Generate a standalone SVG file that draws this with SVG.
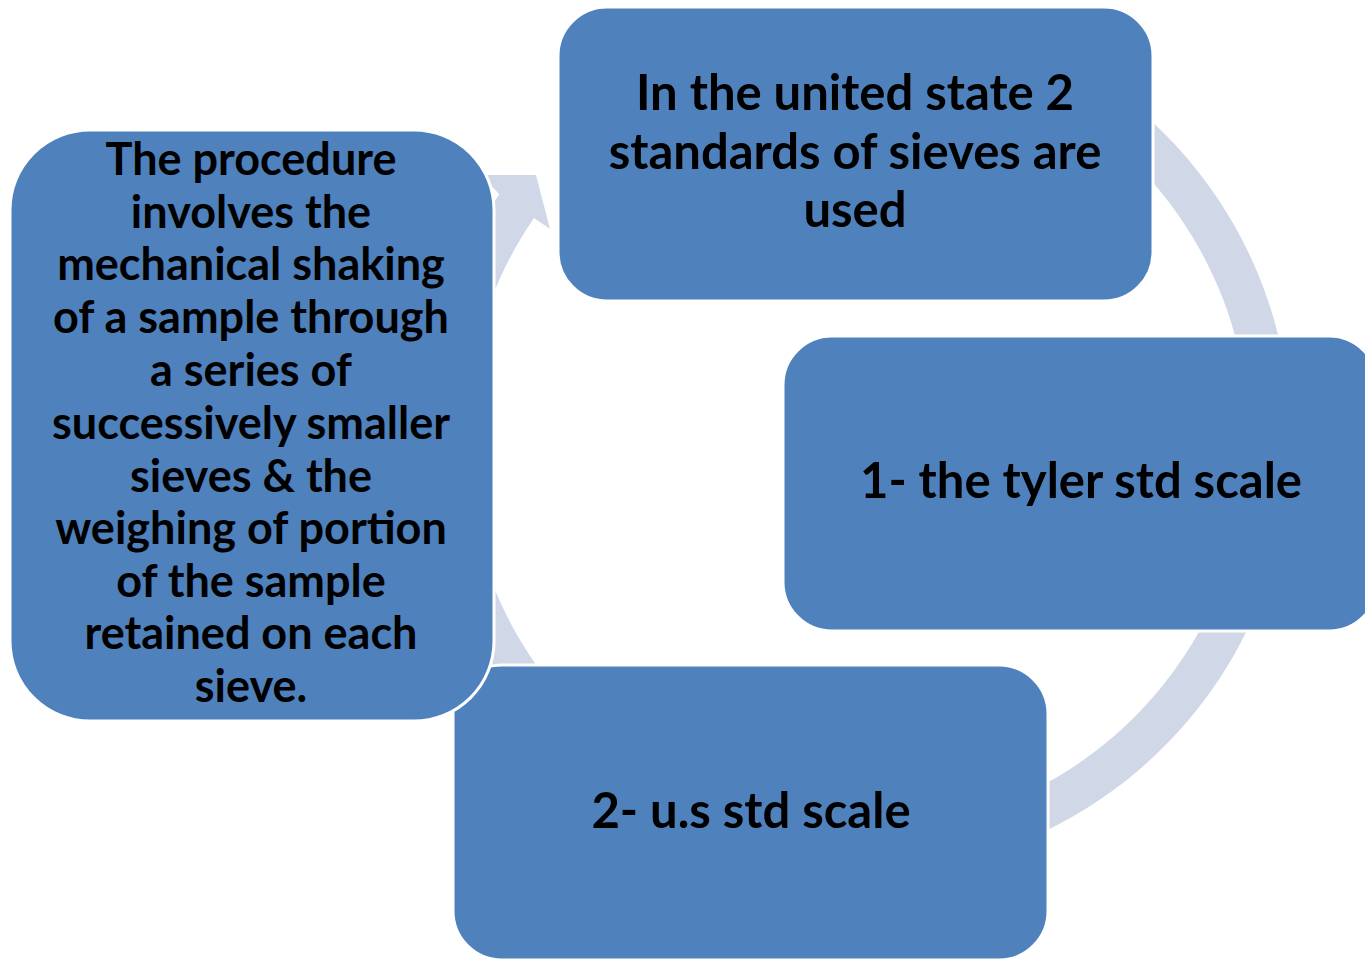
<svg xmlns="http://www.w3.org/2000/svg" width="1365" height="959" viewBox="0 0 1365 959">
<style>
.box{fill:#4F81BD;stroke:#FFFFFF;stroke-width:3}
.band{fill:#D0D8E8}
text{font-family:Lato,"Open Sans","Liberation Sans",sans-serif;font-weight:bold;fill:#000000;text-anchor:middle}
.t1{font-size:49px}
.t2{font-size:45px}
</style>
<rect width="1365" height="959" fill="#FFFFFF"/>
<g id="connectors">
<path class="band" d="M640,64.1 A434,434 0 1 1 499.3,194.2 L481,175 L536,175 L550,229 L534,218 A392,392 0 1 0 661,100.5 Z"/>
</g>
<g id="node-top">
<rect class="box" x="558" y="7" width="595" height="294" rx="49"/>
<text class="t1" x="855" y="110">In the united state 2</text>
<text class="t1" x="855" y="169">standards of sieves are</text>
<text class="t1" x="855" y="227">used</text>
</g>
<g id="node-right">
<rect class="box" x="783" y="336" width="595" height="295" rx="49"/>
<text class="t1" x="1081" y="498">1- the tyler std scale</text>
</g>
<g id="node-bottom">
<rect class="box" x="453" y="665" width="595" height="295" rx="49"/>
<text class="t1" x="751" y="828">2- u.s std scale</text>
</g>
<g id="node-left">
<rect class="box" x="10" y="130" width="484" height="591" rx="80"/>
<text class="t2" x="251" y="175">The procedure</text>
<text class="t2" x="251" y="228">involves the</text>
<text class="t2" x="251" y="280">mechanical shaking</text>
<text class="t2" x="251" y="333">of a sample through</text>
<text class="t2" x="251" y="386">a series of</text>
<text class="t2" x="251" y="439">successively smaller</text>
<text class="t2" x="251" y="492">sieves &amp; the</text>
<text class="t2" x="251" y="544">weighing of portion</text>
<text class="t2" x="251" y="597">of the sample</text>
<text class="t2" x="251" y="649">retained on each</text>
<text class="t2" x="251" y="702">sieve.</text>
</g>
</svg>
